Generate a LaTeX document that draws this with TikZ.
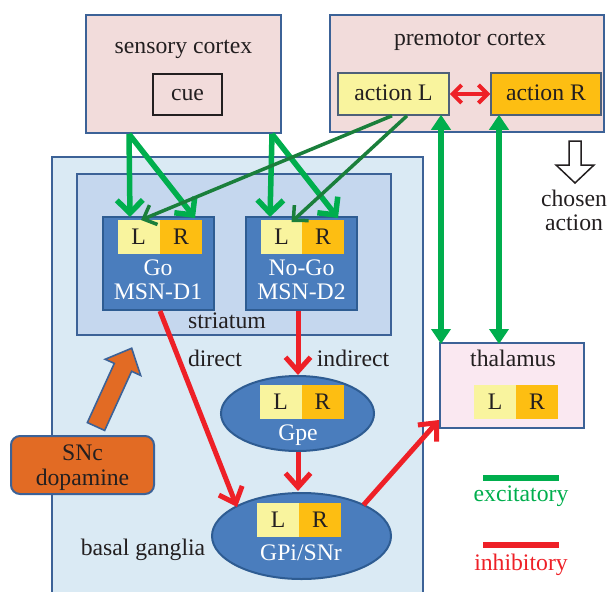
\documentclass[tikz,border=0pt]{standalone}
\usepackage{fontspec}
\setmainfont{Liberation Serif}
\usetikzlibrary{arrows.meta,calc,shapes.geometric}

\definecolor{cortexpink}{HTML}{F2DCDB}
\definecolor{thalpink}{HTML}{FAE8F1}
\definecolor{bgblue}{HTML}{DAEAF4}
\definecolor{strblue}{HTML}{C5D7EE}
\definecolor{msnblue}{HTML}{4A7DBD}
\definecolor{msnedge}{HTML}{2E5C92}
\definecolor{edgeblue}{HTML}{3C6297}
\definecolor{cellL}{HTML}{F9F49E}
\definecolor{cellR}{HTML}{FDBE12}
\definecolor{actedge}{HTML}{4E6079}
\definecolor{snc}{HTML}{E26B24}
\definecolor{exc}{HTML}{00AE4D}
\definecolor{excdark}{HTML}{1A7F3B}
\definecolor{inh}{HTML}{EE2027}
\definecolor{ink}{HTML}{231F20}

\begin{document}
\begin{tikzpicture}[x=1pt,y=-1pt,
  font=\fontsize{23.7}{24}\selectfont, text=ink,
  frame/.style={draw=edgeblue, line width=2pt, inner sep=0pt},
  cortex/.style={frame, fill=cortexpink},
  lbl/.style={inner sep=0pt, anchor=base},
  twoline/.style={inner sep=0pt, align=center, anchor=base},
  wlbl/.style={twoline, text=white},
  actbox/.style={draw=actedge, line width=1.5pt, inner sep=0pt,
                 minimum height=42pt},
  msn/.style={draw=msnedge, line width=2pt, fill=msnblue, inner sep=0pt,
              minimum width=111pt, minimum height=93pt},
  nucleus/.style={ellipse, draw=msnedge, line width=2pt, fill=msnblue,
                  inner sep=0pt},
  cellbox/.style={inner sep=0pt, minimum height=34pt, minimum width=42pt},
  cl/.style={cellbox, fill=cellL},
  cr/.style={cellbox, fill=cellR},
  excarrow/.style={draw=exc, line width=5.5pt,
                   -{Straight Barb[length=13pt,width=26pt]}},
  excthin/.style={draw=excdark, line width=3.5pt,
                  -{Straight Barb[length=11pt,width=21pt]}},
  excboth/.style={draw=exc, line width=5.5pt,
                  {Triangle[length=15pt,width=19pt]}-{Triangle[length=15pt,width=19pt]}},
  inharrow/.style={draw=inh, line width=5pt,
                   -{Straight Barb[length=14pt,width=25pt]}},
  inhboth/.style={draw=inh, line width=4pt,
                  {Straight Barb[length=9pt,width=18pt]}-{Straight Barb[length=9pt,width=18pt]}},
]
\useasboundingbox (0,0) rectangle (609,591);
\clip (0,0) rectangle (609,591);

% basal ganglia region and striatum
\node[frame, fill=bgblue, minimum width=371pt, minimum height=460pt] (bg) at (237.5,387) {};
\node[frame, fill=strblue, minimum width=314pt, minimum height=161pt] (str) at (234,254.5) {};
\node[lbl] (strlbl) at (227,328) {striatum};
\node[lbl] (bglbl) at (143,555) {basal ganglia};

% cortex
\node[cortex, minimum width=195pt, minimum height=118pt] (sens) at (183.5,74) {};
\node[lbl] (senslbl) at (183.5,53.3) {sensory cortex};
\node[draw=ink, line width=1.2pt, fill=cortexpink, inner sep=0pt,
      minimum width=69pt, minimum height=41pt] (cue) at (187.5,94.5) {};
\node[lbl] (cuelbl) at (187.5,100) {cue};

\node[cortex, minimum width=274pt, minimum height=117pt] (pmc) at (467,73.5) {};
\node[lbl] (pmclbl) at (470,46) {premotor cortex};
\node[actbox, fill=cellL, minimum width=111pt] (actL) at (393.5,94) {};
\node[lbl] (actLlbl) at (393.5,100.7) {action L};
\node[actbox, fill=cellR, minimum width=110pt] (actR) at (546,94) {};
\node[lbl] (actRlbl) at (546,100.7) {action R};

% medium spiny neurons (base anchor = baseline of the last line)
\node[msn] (go) at (158,263.5) {};
\node[cl] (goL) at (138.5,237) {L};
\node[cr] (goR) at (181,237) {R};
\node[wlbl] (golbl) at (158,299) {Go\\MSN-D1};

\node[msn] (nogo) at (301.5,263.5) {};
\node[cl] (nogoL) at (281.5,237) {L};
\node[cr] (nogoR) at (323,237) {R};
\node[wlbl] (nogolbl) at (301.5,299) {No-Go\\MSN-D2};

% pallidal nuclei
\node[nucleus, minimum width=153pt, minimum height=75pt] (gpe) at (297.5,413.5) {};
\node[cl] (gpeL) at (280.5,402) {L};
\node[cr] (gpeR) at (322.5,402) {R};
\node[lbl, text=white] (gpelbl) at (298,440) {Gpe};

\node[nucleus, minimum width=179pt, minimum height=86pt] (gpi) at (301.5,536) {};
\node[cl] (gpiL) at (278,519.5) {L};
\node[cr] (gpiR) at (320,519.5) {R};
\node[lbl, text=white] (gpilbl) at (301,560) {GPi/SNr};

\node[lbl] (dirlbl) at (215,366) {direct};
\node[lbl] (indlbl) at (353,366) {indirect};

% thalamus
\node[frame, fill=thalpink, minimum width=144pt, minimum height=85pt] (thal) at (512,385.5) {};
\node[lbl] (thallbl) at (513,366.7) {thalamus};
\node[cl] (thalL) at (495,402) {L};
\node[cr] (thalR) at (537,402) {R};

% dopamine input
\node[draw=edgeblue, line width=2pt, fill=snc, rounded corners=9pt,
      minimum width=143pt, minimum height=58pt] (snc) at (82.5,465) {};
\node[twoline, font=\fontsize{23.7}{25}\selectfont] (snclbl) at (82.5,485) {SNc\\dopamine};
\begin{scope}[shift={(96,426.5)}, rotate=65.5]
  \draw[draw=edgeblue, line width=1.6pt, fill=snc, line join=miter]
    (0,-9.5) -- (65,-9.5) -- (65,-19.5) -- (86,0) -- (65,19.5) -- (65,9.5) -- (0,9.5) -- cycle;
\end{scope}

% chosen action
\draw[draw=ink, line width=1.5pt, fill=white, line join=miter]
  (569,141) -- (581,141) -- (581,165) -- (594,165) -- (575,183)
  -- (556,165) -- (569,165) -- cycle;
\node[twoline] (chosen) at (574,230) {chosen\\action};

% excitatory projections
\coordinate (sensA) at ([xshift=-54.5pt]sens.south);
\coordinate (sensB) at ([xshift=88.5pt]sens.south);
\draw[excarrow] (sensA) -- ([xshift=-28pt,yshift=-1pt]go.north);
\draw[excarrow] (sensA) -- ([xshift=37pt,yshift=-2pt]go.north);
\draw[excarrow] (sensB) -- ([xshift=-31.5pt,yshift=-1pt]nogo.north);
\draw[excarrow] (sensB) -- ([xshift=36.5pt,yshift=-2pt]nogo.north);
\draw[excthin] ([xshift=-1.5pt]actL.south) -- ([xshift=-17pt,yshift=-4pt]go.north);
\draw[excthin] ([xshift=13.5pt]actL.south) -- ([xshift=-10pt,yshift=-6pt]nogo.north);
\draw[excboth] ([xshift=47.5pt,yshift=1pt]actL.south) -- ([xshift=-71pt,yshift=-2pt]thal.north);
\draw[excboth] ([xshift=-47pt,yshift=1pt]actR.south) -- ([xshift=-13pt,yshift=-2pt]thal.north);

% inhibitory projections
\draw[inhboth] (actL.east) -- (actR.west);
\draw[inharrow] ([xshift=2pt]go.south) -- (237,507);
\draw[inharrow] ([xshift=-3.5pt]nogo.south) -- ([xshift=0.5pt]gpe.north);
\draw[inharrow] ([xshift=0.5pt]gpe.south) -- ([xshift=-3.5pt,yshift=1pt]gpi.north);
\coordinate (thalin) at ([yshift=9pt]thal.south west);
\draw[inharrow] ($(gpi.center)+(62,-31)$) -- (thalin);

% legend
\draw[draw=exc, line width=6pt] (483,478) -- (559,478);
\node[lbl, text=exc] (exclbl) at (521,501.7) {excitatory};
\draw[draw=inh, line width=6pt] (483,545) -- (559,545);
\node[lbl, text=inh] (inhlbl) at (521,570) {inhibitory};
\end{tikzpicture}
\end{document}
